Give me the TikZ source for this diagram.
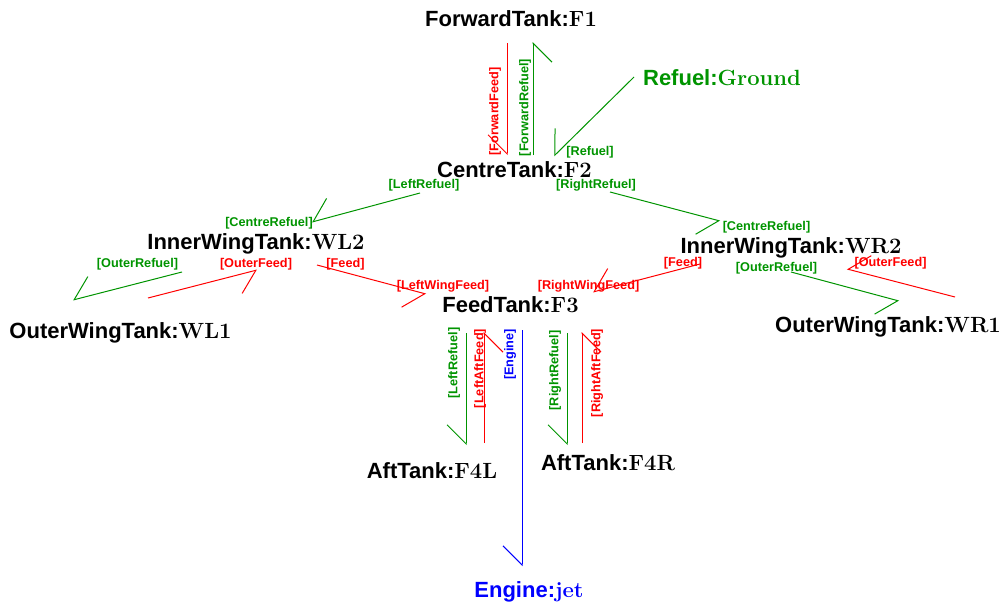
\documentclass[tikz,border=0pt]{standalone}
\usepackage{fontspec}
\setsansfont{Liberation Sans}
\usetikzlibrary{arrows.meta, calc}
\definecolor{refuelgreen}{rgb}{0,0.58,0}
\newcommand{\obj}[2]{\textsf{#1:}#2}
\tikzset{
	tank/.style={font=\fontsize{22}{24}\selectfont\bfseries, inner sep=0pt, anchor=base},
	role/.style={font=\fontsize{12.7}{14}\selectfont\sffamily\bfseries, inner sep=0pt},
	link/.style={line width=1pt, -{Straight Barb[right, length=19pt, width=38pt]}},
	feed/.style={link, red},
	refuel/.style={link, refuelgreen},
	burn/.style={link, blue}
}
\begin{document}
\begin{tikzpicture}[x=1pt, y=-1pt]
	\useasboundingbox (0,0) rectangle (1006,605);
	% tanks
	\node[tank] (F1) at (511,27) {\obj{ForwardTank}{F1}};
	\node[tank, refuelgreen] (ground) at (722,85) {\obj{Refuel}{Ground}};
	\node[tank] (F2) at (514.5,177) {\obj{CentreTank}{F2}};
	\node[tank] (WL2) at (256,249) {\obj{InnerWingTank}{WL2}};
	\node[tank] (WR2) at (791,253) {\obj{InnerWingTank}{WR2}};
	\node[tank] (WL1) at (120.5,338) {\obj{OuterWingTank}{WL1}};
	\node[tank] (F3) at (510.5,312) {\obj{FeedTank}{F3}};
	\node[tank] (WR1) at (888,332) {\obj{OuterWingTank}{WR1}};
	\node[tank] (F4L) at (432,478) {\obj{AftTank}{F4L}};
	\node[tank] (F4R) at (608,470) {\obj{AftTank}{F4R}};
	\node[tank, blue] (jet) at (529,597) {\obj{Engine}{jet}};

	% links
	\draw[feed] ($(F1.base)+(-4,16)$) -- ($(F2.base)+(-7.5,-22)$);
	\draw[refuel] ($(F2.base)+(18.5,-22)$) -- ($(F1.base)+(22,15)$);
	\draw[refuel] ($(ground.base)+(-88,-8)$) -- ($(F2.base)+(39.5,-21)$);
	\draw[refuel] ($(F2.base)+(-94.5,16)$) -- ($(WL2.base)+(56,-27)$);
	\draw[refuel] ($(F2.base)+(95.5,15)$) -- ($(WR2.base)+(-71,-32)$);
	\draw[refuel] ($(WL2.base)+(-74,23)$) -- ($(WL1.base)+(-47.5,-38)$);
	\draw[feed] ($(WL1.base)+(27.5,-40)$) -- ($(WL2.base)+(1,21)$);
	\draw[feed] ($(WL2.base)+(61,16)$) -- ($(F3.base)+(-84.5,-18)$);
	\draw[feed] ($(WR2.base)+(-91,11)$) -- ($(F3.base)+(82.5,-20)$);
	\draw[refuel] ($(WR2.base)+(0,19)$) -- ($(WR1.base)+(11,-31)$);
	\draw[feed] ($(WR1.base)+(67,-35)$) -- ($(WR2.base)+(56,16)$);
	\draw[refuel] ($(F3.base)+(-44.5,21)$) -- ($(F4L.base)+(34,-33)$);
	\draw[feed] ($(F4L.base)+(52,-35)$) -- ($(F3.base)+(-26.5,20)$);
	\draw[burn] ($(F3.base)+(11.5,18)$) -- ($(jet.base)+(-7,-31)$);
	\draw[refuel] ($(F3.base)+(56.5,21)$) -- ($(F4R.base)+(-41,-25)$);
	\draw[feed] ($(F4R.base)+(-26,-27)$) -- ($(F3.base)+(71.5,20)$);

	% roles
	\node[role, red, rotate=90] (rFwdFeed) at (495,111.5) {[ForwardFeed]};
	\node[role, refuelgreen, rotate=90] (rFwdRefuel) at (525,107.5) {[ForwardRefuel]};
	\node[role, refuelgreen] (rRefuel) at (590,152) {[Refuel]};
	\node[role, refuelgreen] (rLeftRefuel) at (424,185) {[LeftRefuel]};
	\node[role, refuelgreen] (rRightRefuel) at (596,185) {[RightRefuel]};
	\node[role, refuelgreen] (rCentreL) at (269,223) {[CentreRefuel]};
	\node[role, refuelgreen] (rCentreR) at (766.5,227) {[CentreRefuel]};
	\node[role, refuelgreen] (rOuterRefL) at (137.5,264) {[OuterRefuel]};
	\node[role, red] (rOuterFeedL) at (256,264) {[OuterFeed]};
	\node[role, red] (rFeedL) at (345.5,264) {[Feed]};
	\node[role, red] (rLeftWing) at (443,286) {[LeftWingFeed]};
	\node[role, red] (rFeedR) at (683,263) {[Feed]};
	\node[role, red] (rRightWing) at (588.5,286) {[RightWingFeed]};
	\node[role, refuelgreen] (rOuterRefR) at (776.5,268) {[OuterRefuel]};
	\node[role, red] (rOuterFeedR) at (890.5,263) {[OuterFeed]};
	\node[role, refuelgreen, rotate=90] (rLeftRefuelB) at (454,363) {[LeftRefuel]};
	\node[role, red, rotate=90] (rLeftAft) at (480,368.5) {[LeftAftFeed]};
	\node[role, blue, rotate=90] (rEngine) at (510,354.5) {[Engine]};
	\node[role, refuelgreen, rotate=90] (rRightRefuelB) at (555,370.5) {[RightRefuel]};
	\node[role, red, rotate=90] (rRightAft) at (597,373) {[RightAftFeed]};
\end{tikzpicture}
\end{document}
